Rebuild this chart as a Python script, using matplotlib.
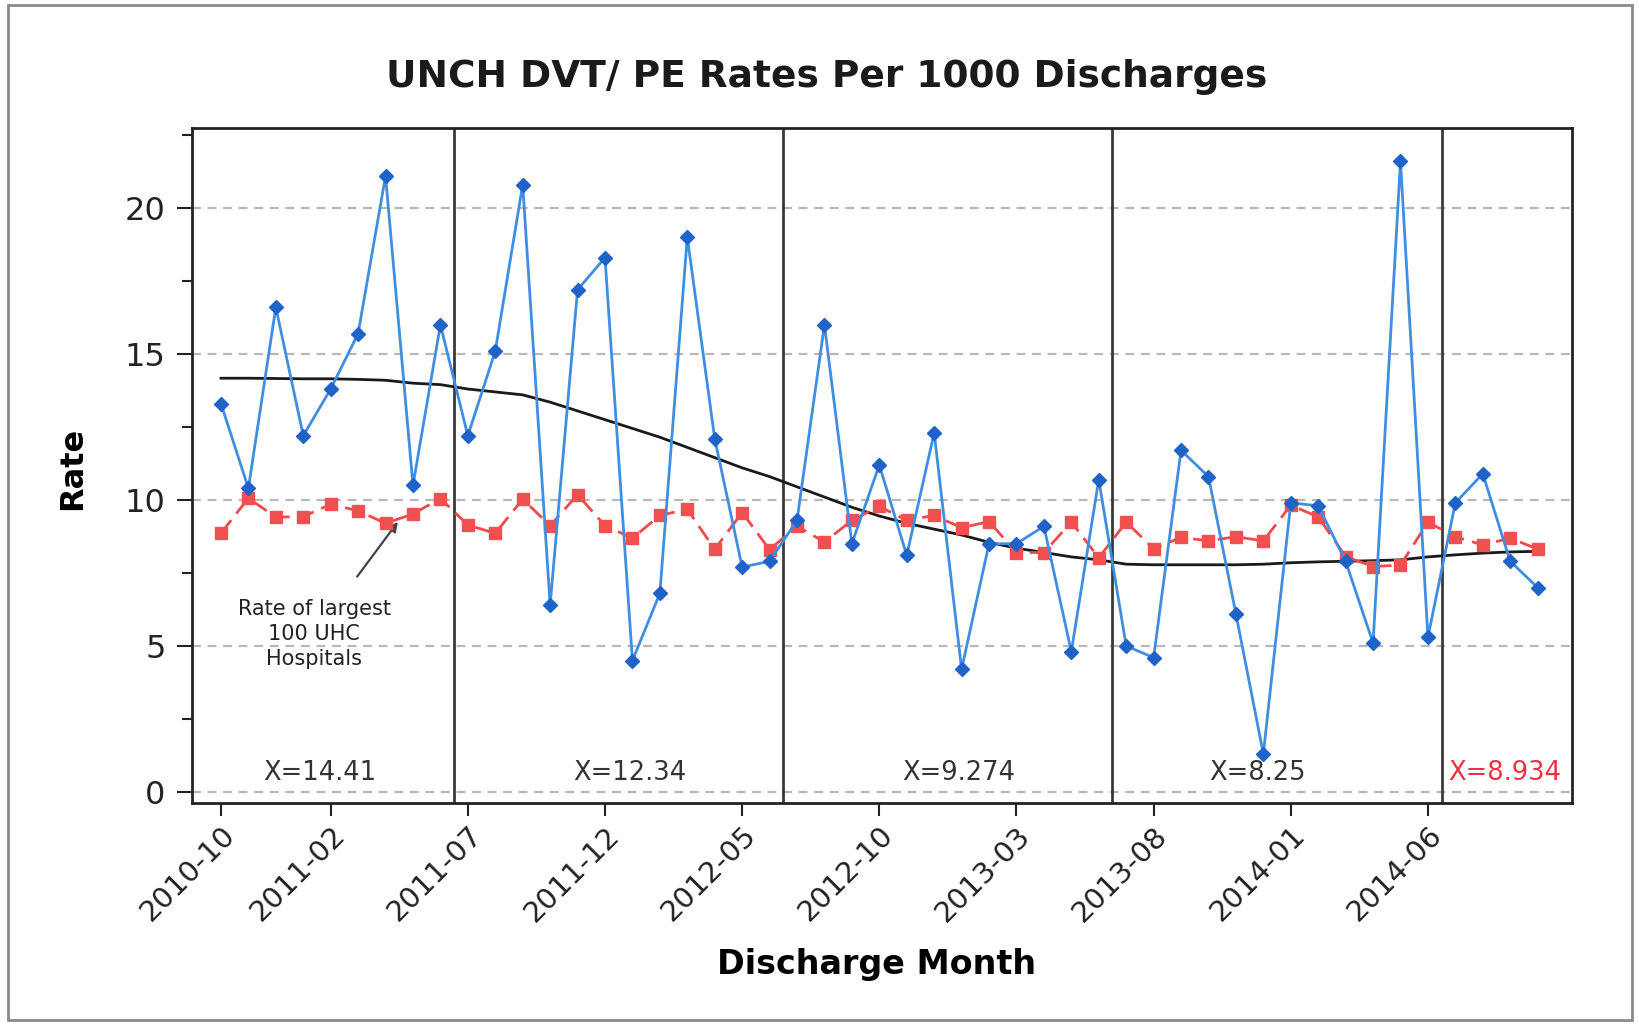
import numpy as np
import matplotlib.pyplot as plt
from matplotlib.patches import Rectangle

# monthly series, 2010-10 .. 2014-10 (month index 0..48)
unch_rate = [13.3, 10.4, 16.6, 12.2, 13.8, 15.7, 21.1, 10.5, 16.0, 12.2,
             15.1, 20.8, 6.4, 17.2, 18.3, 4.5, 6.8, 19.0, 12.1, 7.7,
             7.9, 9.3, 16.0, 8.5, 11.2, 8.1, 12.3, 4.2, 8.5, 8.5,
             9.1, 4.8, 10.7, 5.0, 4.6, 11.7, 10.8, 6.1, 1.3, 9.9,
             9.8, 7.9, 5.1, 21.6, 5.3, 9.9, 10.9, 7.9, 7.0]
uhc_rate = [8.86, 10.06, 9.41, 9.43, 9.85, 9.63, 9.2, 9.52, 10.05, 9.14,
            8.86, 10.03, 9.12, 10.18, 9.12, 8.69, 9.47, 9.68, 8.31, 9.57,
            8.3, 9.1, 8.56, 9.3, 9.78, 9.3, 9.47, 9.05, 9.26, 8.2,
            8.2, 9.24, 8.02, 9.24, 8.33, 8.72, 8.6, 8.74, 8.6, 9.82,
            9.42, 8.06, 7.72, 7.77, 9.24, 8.74, 8.46, 8.69, 8.32]
trend = [14.17, 14.17, 14.16, 14.15, 14.15, 14.13, 14.1, 14.0, 13.95, 13.8,
         13.7, 13.6, 13.35, 13.05, 12.75, 12.45, 12.15, 11.8, 11.45, 11.1,
         10.8, 10.45, 10.1, 9.75, 9.45, 9.2, 9.0, 8.8, 8.55, 8.35,
         8.2, 8.05, 7.95, 7.8, 7.78, 7.78, 7.78, 7.78, 7.8, 7.85,
         7.88, 7.9, 7.92, 7.95, 8.05, 8.12, 8.18, 8.22, 8.24]

tick_pos = [0, 4, 9, 14, 19, 24, 29, 34, 39, 44]
tick_labels = ["2010-10", "2011-02", "2011-07", "2011-12", "2012-05",
               "2012-10", "2013-03", "2013-08", "2014-01", "2014-06"]

phase_breaks = [8.5, 20.5, 32.5, 44.5]
phase_label_x = [3.6, 14.9, 26.9, 37.8, 46.8]
phase_means = ["14.41", "12.34", "9.274", "8.25", "8.934"]

months = np.arange(len(unch_rate))

fig = plt.figure(figsize=(16.4, 10.24), dpi=100)
ax = fig.add_axes([0.117, 0.2158, 0.8415, 0.6592])

for yv in [0, 5, 10, 15, 20]:
    ax.axhline(yv, color="#b8b8b8", lw=1.6, ls=(0, (4, 3)), zorder=1)

for xb in phase_breaks:
    ax.axvline(xb, color="#3a3a3a", lw=2, zorder=2)

ax.plot(months, trend, color="#1a1a1a", lw=2, zorder=3)
ax.plot(months, uhc_rate, color="#f04a4a", lw=2, ls=(0, (6, 3)),
        marker="s", ms=8, mfc="#f05050", mec="#f05050", zorder=4)
ax.plot(months, unch_rate, color="#3f8ee0", lw=2, marker="D", ms=7.5,
        mfc="#1f62c8", mec="#1f62c8", zorder=5)

for i, (xl, m) in enumerate(zip(phase_label_x, phase_means)):
    col = "#f03040" if i == len(phase_means) - 1 else "#333333"
    ax.text(xl, 0.65, "X=" + m, ha="center", va="center", fontsize=18.5,
            color=col, zorder=6)

ax.annotate("Rate of largest\n100 UHC\nHospitals", xy=(6.45, 9.25),
            xytext=(3.4, 5.4), ha="center", va="center", fontsize=15,
            color="#222222", linespacing=1.3,
            arrowprops=dict(arrowstyle="-|>", color="#444444", lw=1.6,
                            shrinkA=18, shrinkB=0, mutation_scale=14))

ax.set_xlim(-1.06, 49.25)
ax.set_ylim(-0.38, 22.74)
ax.set_yticks([0, 5, 10, 15, 20])
ax.set_yticks(np.arange(2.5, 23, 5), minor=True)
ax.set_xticks(tick_pos)
ax.set_xticklabels(tick_labels, rotation=45, ha="right", va="top",
                   rotation_mode="anchor", fontsize=21)
ax.tick_params(axis="y", which="major", labelsize=23, length=11, width=1.5,
               pad=8, colors="#222222")
ax.tick_params(axis="y", which="minor", length=7, width=1.5, colors="#222222")
ax.tick_params(axis="x", length=9, width=1.5, pad=4, colors="#222222")
for s in ax.spines.values():
    s.set_linewidth(2)
    s.set_color("#222222")

ax.set_ylabel("Rate", fontsize=23, fontweight="bold")
ax.yaxis.set_label_coords(-0.075, 0.496)
ax.set_xlabel("Discharge Month", fontsize=24, fontweight="bold")
ax.xaxis.set_label_coords(0.496, -0.215)

fig.text(0.504, 0.925, "UNCH DVT/ PE Rates Per 1000 Discharges",
         ha="center", va="center", fontsize=27, fontweight="bold",
         color="#1a1a1a")

fig.patches.append(Rectangle((0.005, 0.004), 0.99, 0.991,
                             transform=fig.transFigure, fill=False,
                             edgecolor="#8a8a8a", lw=2))

fig.savefig("out.png", dpi=100)
